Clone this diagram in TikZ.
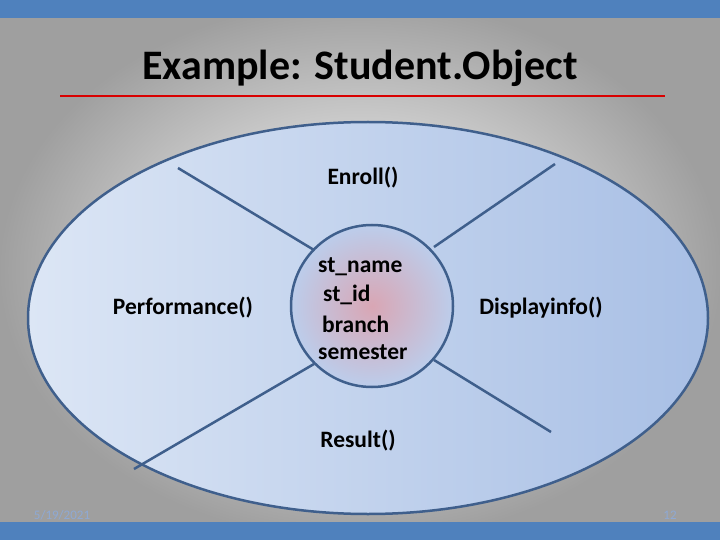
\documentclass[tikz,border=0pt]{standalone}
\usepackage{fontspec}
\setmainfont{Carlito}
\begin{document}
\begin{tikzpicture}[x=1pt,y=-1pt,
  lbl/.style={font=\fontsize{23.5}{25}\selectfont\bfseries, text=black},
  divider/.style={draw=edge, line width=2.5pt}]
\definecolor{edge}{HTML}{3F5F8C}
\definecolor{bar}{HTML}{4F81BD}
\definecolor{ell1}{HTML}{DCE6F5}
\definecolor{ell2}{HTML}{A8BFE5}
\definecolor{pinkc}{HTML}{D9A6B4}
\definecolor{circo}{HTML}{BCCDEB}
\definecolor{foot}{HTML}{8EA9D4}
\useasboundingbox (0,0) rectangle (720,540);
\shade[inner color=white, outer color=gray!75] (0,0) rectangle (720,540);
\fill[bar] (0,0) rectangle (720,18);
\fill[bar] (0,522) rectangle (720,540);
\node[font=\fontsize{42}{44}\selectfont\bfseries] (title) at (360,68) {Example: Student.Object};
\coordinate (r1) at (60,96); \coordinate (r2) at (665,96);
\draw[red!85!black, line width=2.5pt] (r1) -- (r2);
\shade[left color=ell1, right color=ell2] (368,318) ellipse (340 and 196);
\draw[edge, line width=2.5pt] (368,318) ellipse (340 and 196);
\shade[inner color=pinkc, outer color=circo] (372,306) circle (81);
\draw[edge, line width=2.5pt] (372,306) circle (81);
\coordinate (a1) at (178,168); \coordinate (a2) at (314,250);
\coordinate (b1) at (555,164); \coordinate (b2) at (434,247);
\coordinate (c1) at (134,469); \coordinate (c2) at (314,364);
\coordinate (d1) at (551,432); \coordinate (d2) at (434,360);
\draw[divider] (a1) -- (a2);
\draw[divider] (b1) -- (b2);
\draw[divider] (c1) -- (c2);
\draw[divider] (d1) -- (d2);
\node[lbl] (enroll) at (363,178) {Enroll()};
\node[lbl] (perf) at (183,308) {Performance()};
\node[lbl] (disp) at (541,308) {Displayinfo()};
\node[lbl] (res) at (358,441) {Result()};
\node[lbl, anchor=west, inner sep=0pt] (n1) at (318,267) {st\_name};
\node[lbl, anchor=west, inner sep=0pt] (n2) at (323,295) {st\_id};
\node[lbl, anchor=west, inner sep=0pt] (n3) at (322,324) {branch};
\node[lbl, anchor=west, inner sep=0pt] (n4) at (318,352) {semester};
\node[font=\fontsize{13}{14}\selectfont, text=foot] (date) at (62,515) {5/19/2021};
\node[font=\fontsize{13}{14}\selectfont, text=foot] (pg) at (670,515) {12};
\end{tikzpicture}
\end{document}
